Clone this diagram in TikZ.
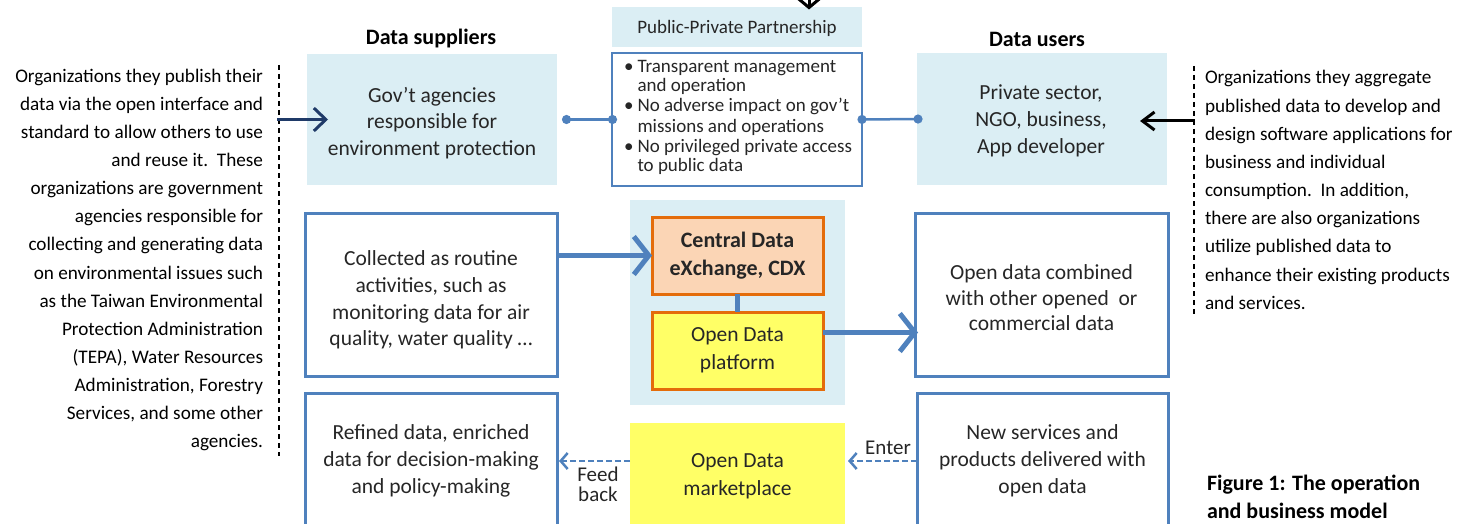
\documentclass[tikz,border=0pt]{standalone}
\usepackage{fontspec}
\setmainfont{Carlito}
\usetikzlibrary{arrows.meta}
\definecolor{lb}{HTML}{DBEEF4}
\definecolor{bl}{HTML}{4F81BD}
\definecolor{nv}{HTML}{1F3A68}
\definecolor{orb}{HTML}{E46C0A}
\definecolor{orf}{HTML}{FBD5B5}
\definecolor{yel}{HTML}{FFFF66}
\begin{document}
\begin{tikzpicture}[x=1pt,y=-1pt,
  every node/.style={inner sep=0pt,outer sep=0pt},
  boxtxt/.style={font=\fontsize{21.5}{26.8}\selectfont,align=center,text=black!85},
  sidetxt/.style={font=\fontsize{19.2}{28.15}\selectfont},
  headtxt/.style={font=\bfseries\fontsize{22}{28}\selectfont},
  lbbox/.style={fill=lb,draw=none},
  bluebox/.style={draw=bl,line width=3pt,fill=white},
  orbox/.style={draw=orb,line width=3pt},
  bigarrow/.style={draw=bl,line width=5pt,-{Straight Barb[length=15pt,width=38pt]}},
  dasharrow/.style={draw=bl,line width=2.5pt,dash pattern=on 6pt off 3pt,-{Straight Barb[length=7pt,width=16pt]}},
  dotline/.style={draw=bl,line width=2.5pt,{Circle[length=9pt]}-{Circle[length=9pt]}},
  sidedash/.style={draw=black,line width=1.2pt,dash pattern=on 5pt off 4pt}]
\useasboundingbox (0,0) rectangle (1474,524);
\clip (0,0) rectangle (1474,524);

% headings
\node[headtxt] (hsup) at (431,39) {Data suppliers};
\node[headtxt] (husr) at (1037,39) {Data users};

% top row
\node[lbbox,minimum width=250,minimum height=131] (gov) at (432,119.5) {};
\node[boxtxt] (govtxt) at (432,123) {Gov’t agencies\\responsible for\\environment protection};
\node[lbbox,minimum width=250,minimum height=40] (ppph) at (737,27.5) {};
\node[font=\fontsize{19}{22}\selectfont,text=black!85] (pppht) at (737,28) {Public-Private Partnership};
\node[draw=bl,line width=2pt,fill=white,minimum width=250,minimum height=133] (ppp) at (737,119.5) {};
\node[font=\fontsize{19}{20}\selectfont,text=black!85] (ppptxt) at (738,118) {\begin{tabular}{@{}l@{\hspace{4pt}}l@{}}
\textbullet & Transparent management\\
 & and operation\\
\textbullet & No adverse impact on gov’t\\
 & missions and operations\\
\textbullet & No privileged private access\\
 & to public data
\end{tabular}};
\node[lbbox,minimum width=250,minimum height=132] (priv) at (1042,119) {};
\node[boxtxt] (privtxt) at (1041,121) {Private sector,\\NGO, business,\\App developer};

\draw[dotline] ([xshift=5pt]gov.east) -- ([xshift=5pt]ppp.west);
\draw[dotline] ([xshift=-4.5pt]ppp.east) -- ([xshift=5.5pt]priv.west);

% side texts
\node[sidetxt,align=right,anchor=east] (ltxt) at (263,260) {Organizations they publish their\\
data via the open interface and\\
standard to allow others to use\\
and reuse it.\ \ These\\
organizations are government\\
agencies responsible for\\
collecting and generating data\\
on environmental issues such\\
as the Taiwan Environmental\\
Protection Administration\\
(TEPA), Water Resources\\
Administration, Forestry\\
Services, and some other\\
agencies.};
\node[sidetxt,align=left,anchor=west] (rtxt) at (1205,190) {Organizations they aggregate\\
published data to develop and\\
design software applications for\\
business and individual\\
consumption.\ \ In addition,\\
there are also organizations\\
utilize published data to\\
enhance their existing products\\
and services.};
\coordinate (ld1) at (279,65);
\coordinate (ld2) at (279,456);
\coordinate (rd1) at (1194,66);
\coordinate (rd2) at (1194,316);
\draw[sidedash] (ld1) -- (ld2);
\draw[sidedash] (rd1) -- (rd2);
\coordinate (lstart) at (277,119.5);
\coordinate (rstart) at (1195,121);
\draw[nv,line width=3pt,-{Straight Barb[length=12pt,width=23pt]}] (lstart) -- ([xshift=21pt]gov.west |- lstart);
\draw[black,line width=3pt,-{Straight Barb[length=12pt,width=18pt]}] (rstart) -- ([xshift=-27pt]priv.east |- rstart);
\coordinate (topin) at (809,-6);
\draw[black,line width=3pt,-{Straight Barb[length=10pt,width=24pt]}] (topin) -- ([yshift=-2pt]ppph.north -| topin);

% middle row
\node[bluebox,minimum width=252,minimum height=163] (coll) at (431,294.5) {};
\node[boxtxt] (colltxt) at (431,300) {Collected as routine\\activities, such as\\monitoring data for air\\quality, water quality …};
\node[lbbox,minimum width=215,minimum height=205] (cbg) at (737.5,302.5) {};
\node[orbox,fill=orf,minimum width=171,minimum height=77,headtxt,align=center,text=black!85,font=\bfseries\fontsize{22}{28.5}\selectfont] (cdx) at (737.5,255.5) {Central Data\\eXchange, CDX};
\node[orbox,fill=yel,minimum width=171,minimum height=77,boxtxt,font=\fontsize{21.5}{28}\selectfont] (odp) at (737.5,350.5) {Open Data\\platform};
\draw[bl,line width=5pt] (cdx.south) -- (odp.north);
\node[bluebox,minimum width=253,minimum height=163] (comb) at (1041.5,294.5) {};
\node[boxtxt,font=\fontsize{21.5}{25.5}\selectfont] (combtxt) at (1041.5,298) {Open data combined\\with other opened\ \ or\\commercial data};
\draw[bigarrow] (coll.east |- cdx.west) -- (cdx.west);
\draw[bigarrow] ([yshift=18pt]odp.east) -- ([yshift=18pt,xshift=3pt]comb.west |- odp.east);

% bottom row
\node[bluebox,minimum width=252,minimum height=136,boxtxt] (ref) at (431,461) {Refined data, enriched\\data for decision-making\\and policy-making};
\node[fill=yel,minimum width=215,minimum height=106,boxtxt,font=\fontsize{21.5}{28}\selectfont] (mkt) at (737.5,476) {Open Data\\marketplace};
\node[bluebox,minimum width=251,minimum height=136,boxtxt] (nsv) at (1042.5,461) {New services and\\products delivered with\\open data};
\draw[dasharrow] (nsv.west) -- ([xshift=3pt]mkt.east |- nsv.west);
\draw[dasharrow] (mkt.west |- ref.east) -- ([xshift=2pt]ref.east);
\node[font=\fontsize{21}{24}\selectfont,text=black!85] (enter) at (888,448) {Enter};
\node[font=\fontsize{21}{20}\selectfont,align=center,text=black!85] (feed) at (598,484) {Feed\\back};

% caption
\node[headtxt,align=left,anchor=west] (cap) at (1207,497) {Figure 1: The operation\\and business model};
\end{tikzpicture}
\end{document}
